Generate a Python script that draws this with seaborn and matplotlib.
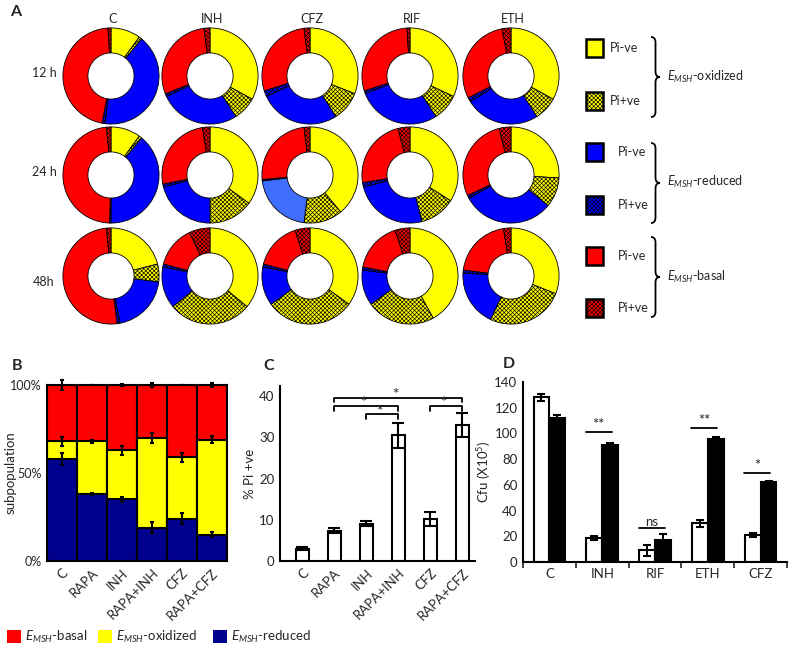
import matplotlib
matplotlib.use("Agg")
import matplotlib.pyplot as plt
import numpy as np
import pandas as pd
import seaborn as sns
from matplotlib.path import Path
from matplotlib.patches import PathPatch, Rectangle

# ======== data =======================================
drugs_a = ["C", "INH", "CFZ", "RIF", "ETH"]
times_a = ["12 h", "24 h", "48h"]
# order: oxidized Pi-ve, oxidized Pi+ve, reduced Pi-ve, reduced Pi+ve, basal Pi-ve, basal Pi+ve
donut_12h = [[10, 1, 41, 1, 46, 1], [33, 8, 27, 1, 29, 2], [31, 10, 27, 2, 28, 2],
             [32, 9, 28, 1, 29, 1], [33, 8, 25, 1.5, 29.5, 3]]
donut_24h = [[10, 1, 39, 0.5, 48, 1.5], [35, 15, 21, 1, 25.5, 2.5], [39, 13, 21, 0.5, 24.5, 2],
             [34, 12, 25, 1.5, 23.5, 4], [26, 10, 31, 1, 28, 4]]
donut_48h = [[21, 6, 20, 1, 50.5, 1.5], [36, 28, 14, 1, 14, 7], [35, 30, 13, 1, 16, 5],
             [42, 23, 12, 1, 17, 5], [31, 26, 19, 1, 20.5, 2.5]]

drugs_b = ["C", "RAPA", "INH", "RAPA+INH", "CFZ", "RAPA+CFZ"]
b_reduced = [58, 38, 35, 19, 24, 15]
b_reduced_err = [3.5, 0.5, 1.5, 3, 3, 1.5]
b_oxidized_top = [68, 68, 63, 70, 59, 69]
b_oxidized_err = [2.5, 1, 2.5, 3, 2.5, 2]
b_basal_top = [100, 100, 100, 100, 100, 100]
b_basal_err = [3, 0, 0.8, 1, 0, 1]

c_pi_pos = [3.0, 7.3, 9.1, 30.5, 10.3, 33.0]
c_pi_err = [0.3, 0.6, 0.6, 3.0, 1.7, 3.0]
c_sig = [(1, 5, 39.6), (1, 3, 37.6), (2, 3, 35.6), (4, 5, 37.6)]

drugs_d = ["C", "INH", "RIF", "ETH", "CFZ"]
d_7h9 = [128, 19, 9, 30, 21]
d_7h9_err = [2.5, 1.5, 4, 2.5, 1.5]
d_dtt = [112, 91, 17, 96, 62]
d_dtt_err = [2.5, 1.5, 4.5, 1.5, 1]
d_sig = [(1, "**", 101), (2, "ns", 26.5), (3, "**", 104), (4, "*", 69)]

W, H = 792, 650

sns.set_style("white")
plt.rcParams["font.family"] = ["Lato", "DejaVu Sans"]
plt.rcParams["mathtext.fontset"] = "custom"
plt.rcParams["mathtext.rm"] = "Lato"
plt.rcParams["mathtext.it"] = "Lato:italic"
plt.rcParams["hatch.linewidth"] = 0.45
FS = 9
FS_AX = 9.5
HATCH = "xxxxxxxx"

YEL, BLU, RED = "#FFFF00", "#0000FF", "#FF0000"
BLU_LIGHT = "#3F6EFF"
NAVY = "#00008F"


def px_rect(left, top, right, bottom):
    return [left / W, 1 - bottom / H, (right - left) / W, (bottom - top) / H]


def draw_brace(ax, x, y0, y1, w):
    ym = (y0 + y1) / 2
    r = w * 0.6
    xm = x + w / 2
    verts = [(x, y0), (xm, y0), (xm, y0 + r), (xm, ym - r), (xm, ym), (x + w, ym),
             (xm, ym), (xm, ym + r), (xm, y1 - r), (xm, y1), (x, y1)]
    codes = [Path.MOVETO, Path.CURVE3, Path.CURVE3, Path.LINETO, Path.CURVE3, Path.CURVE3,
             Path.CURVE3, Path.CURVE3, Path.LINETO, Path.CURVE3, Path.CURVE3]
    ax.add_patch(PathPatch(Path(verts, codes), fill=False, lw=1.3, color="black"))


fig = plt.figure(figsize=(W / 100, H / 100), dpi=100)
ov = fig.add_axes([0, 0, 1, 1])
ov.set_xlim(0, W)
ov.set_ylim(H, 0)
ov.axis("off")

# ======== panel A: donuts =======================================
cx = [111, 210, 310, 410, 511]
cy = [76, 175, 276]
rad = 48
base_colors = [YEL, YEL, BLU, BLU, RED, RED]
hatches = ["", HATCH, "", HATCH, "", HATCH]

for i, rowdata in enumerate([donut_12h, donut_24h, donut_48h]):
    for j, vals in enumerate(rowdata):
        ax = fig.add_axes(px_rect(cx[j] - rad - 2, cy[i] - rad - 2, cx[j] + rad + 2, cy[i] + rad + 2))
        colors = list(base_colors)
        if i == 1 and drugs_a[j] == "CFZ":
            colors[2] = BLU_LIGHT
        ax.pie(vals, colors=colors, hatch=hatches, startangle=90, counterclock=False,
               radius=1, wedgeprops=dict(width=0.52, edgecolor="black", linewidth=0.6))
        ax.set_xlim(-1.04, 1.04)
        ax.set_ylim(-1.04, 1.04)
        ax.set_aspect("equal")

for j, d in enumerate(drugs_a):
    ov.text(cx[j] + 2, 19, d, ha="center", va="center", fontsize=FS)
for i, t in enumerate(times_a):
    ov.text(44, cy[i] - 3 if i < 2 else cy[i] + 6, t, ha="center", va="center", fontsize=FS)
ov.text(10, 12, "A", fontsize=11.5, fontweight="bold", va="center")

# legend A
groups = [("oxidized", YEL, 48, 101, 37, 117, 77, 610),
          ("reduced", BLU, 152, 205, 143, 223, 182, 618),
          ("basal", RED, 256, 308, 237, 317, 277, 618)]
for name, col, yn, yp, b0, b1, ylab, xl in groups:
    ov.add_patch(Rectangle((586, yn - 9), 17, 18, facecolor=col, edgecolor="black", lw=1.8))
    ov.add_patch(Rectangle((586, yp - 9), 17, 18, facecolor=col, edgecolor="black", lw=1.8,
                           hatch=HATCH))
    ov.text(xl, yn, "Pi-ve", va="center", fontsize=FS)
    ov.text(xl, yp, "Pi+ve", va="center", fontsize=FS)
    draw_brace(ov, 651, b0, b1, 9)
    ov.text(667, ylab, r"$\mathit{E}_{\mathit{MSH}}$-" + name, va="center", fontsize=FS)

# ======== panel B: stacked subpopulations =======================================
axb = fig.add_axes(px_rect(47, 385, 227, 561))
bar_kw = dict(width=1.0, edgecolor="black", linewidth=1.5, errorbar=None, saturation=1, ax=axb)
sns.barplot(x=drugs_b, y=b_basal_top, color=RED, **bar_kw)
sns.barplot(x=drugs_b, y=b_oxidized_top, color=YEL, **bar_kw)
sns.barplot(x=drugs_b, y=b_reduced, color=NAVY, **bar_kw)
xb = np.arange(len(drugs_b))
for y, e in [(b_reduced, b_reduced_err), (b_oxidized_top, b_oxidized_err), (b_basal_top, b_basal_err)]:
    axb.errorbar(xb, y, yerr=e, fmt="none", ecolor="black", elinewidth=1.5, capsize=1.5,
                 capthick=1.5, clip_on=False, zorder=5)
axb.set_xlim(-0.5, 5.5)
axb.set_ylim(0, 100)
axb.set_yticks([0, 50, 100])
axb.set_yticklabels(["0%", "50%", "100%"], fontsize=FS)
axb.set_ylabel("subpopulation", fontsize=FS_AX, va="center")
axb.yaxis.set_label_coords(-0.2, 0.5)
axb.set_xticks(xb)
axb.set_xticklabels(drugs_b, rotation=45, ha="right", rotation_mode="anchor", fontsize=FS_AX)
axb.tick_params(axis="both", length=3, width=1, pad=1)
for s in axb.spines.values():
    s.set_linewidth(1.5)
    s.set_color("black")
ov.text(12, 366, "B", fontsize=11.5, fontweight="bold", va="center")

for col, lab, x0 in [(RED, "basal", 7), (YEL, "oxidized", 98), (NAVY, "reduced", 213)]:
    ov.add_patch(Rectangle((x0, 630), 14, 13, facecolor=col, edgecolor="none"))
    ov.text(x0 + 18, 637, r"$\mathit{E}_{\mathit{MSH}}$-" + lab, va="center", fontsize=FS_AX)

# ======== panel C: % Pi +ve =======================================
axc = fig.add_axes(px_rect(280, 386, 475, 561))
sns.barplot(x=drugs_b, y=c_pi_pos, color="white", edgecolor="black", linewidth=1.5,
            width=0.4, errorbar=None, saturation=1, ax=axc)
xc = np.arange(len(drugs_b))
axc.errorbar(xc, c_pi_pos, yerr=c_pi_err, fmt="none", ecolor="black", elinewidth=1.5,
             capsize=4, capthick=1.5, zorder=5)
for a, b, y in c_sig:
    axc.plot([a, a, b, b], [y - 1.1, y, y, y - 1.1], color="black", lw=1.3, clip_on=False)
    axc.text((a + b) / 2 - 0.1, y - 1.0, "*", ha="center", va="bottom", fontsize=11)
axc.set_xlim(-0.7, 5.4)
axc.set_ylim(0, 42.5)
axc.set_yticks([0, 10, 20, 30, 40])
axc.set_xticks(xc)
axc.set_xticklabels(drugs_b, rotation=45, ha="right", rotation_mode="anchor", fontsize=FS_AX)
axc.tick_params(axis="y", labelsize=FS_AX, length=3, width=1, pad=1)
axc.tick_params(axis="x", length=0, pad=4)
axc.set_ylabel("% Pi +ve", fontsize=FS_AX, labelpad=2)
sns.despine(ax=axc)
for s in ["left", "bottom"]:
    axc.spines[s].set_linewidth(1.5)
    axc.spines[s].set_color("black")
ov.text(263, 366, "C", fontsize=11.5, fontweight="bold", va="center")

# ======== panel D: cfu =======================================
axd = fig.add_axes(px_rect(523, 382, 787, 562))
df_d = pd.DataFrame({
    "drug": drugs_d * 2,
    "medium": ["7H9"] * len(drugs_d) + ["DTT"] * len(drugs_d),
    "cfu": d_7h9 + d_dtt,
})
sns.barplot(data=df_d, x="drug", y="cfu", hue="medium", palette={"7H9": "white", "DTT": "black"},
            edgecolor="black", linewidth=1.5, width=0.6, gap=0, errorbar=None, legend=False,
            saturation=1, ax=axd)
xd = np.arange(len(drugs_d))
axd.errorbar(xd - 0.15, d_7h9, yerr=d_7h9_err, fmt="none", ecolor="black", elinewidth=1.5,
             capsize=3, capthick=1.5, zorder=5)
axd.errorbar(xd + 0.15, d_dtt, yerr=d_dtt_err, fmt="none", ecolor="black", elinewidth=1.5,
             capsize=3, capthick=1.5, zorder=5)
for i, lab, y in d_sig:
    axd.plot([i - 0.31, i + 0.18], [y, y], color="black", lw=1.3)
    fs = FS_AX if lab == "ns" else 10.5
    axd.text(i - 0.07, y + 0.3, lab, ha="center", va="bottom", fontsize=fs)
axd.set_xlim(-0.5, 4.5)
axd.set_ylim(0, 140)
axd.set_yticks(range(0, 141, 20))
axd.set_xticks(xd)
axd.set_xticks(np.arange(-0.5, 4.6, 1), minor=True)
axd.tick_params(axis="x", which="major", length=0, labelsize=FS_AX, pad=4)
axd.tick_params(axis="x", which="minor", length=4, width=1.2, direction="out", bottom=True)
axd.tick_params(axis="y", labelsize=FS_AX, length=3, width=1, pad=1)
axd.set_xlabel("")
axd.set_ylabel("Cfu (X10$^5$)", fontsize=FS_AX, labelpad=1)
sns.despine(ax=axd)
for s in ["left", "bottom"]:
    axd.spines[s].set_linewidth(1.5)
    axd.spines[s].set_color("black")
ov.text(503, 364, "D", fontsize=11.5, fontweight="bold", va="center")

ov.add_patch(Rectangle((718, 384), 10, 12, facecolor="white", edgecolor="black", lw=1.8))
ov.text(733, 390, "7H9", va="center", fontsize=FS_AX)
ov.add_patch(Rectangle((718, 409), 10, 14, facecolor="black", edgecolor="black", lw=1.5))
ov.text(733, 416, "DTT", va="center", fontsize=FS_AX)

fig.savefig("out.png", dpi=100)
plt.close()
